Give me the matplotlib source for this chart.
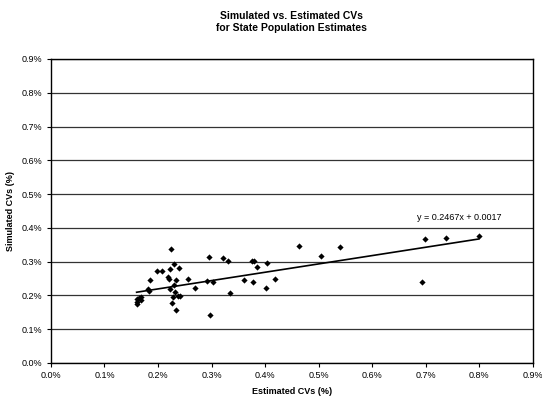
import numpy as np
import matplotlib.pyplot as plt
from matplotlib.ticker import FuncFormatter, MultipleLocator

plt.rcParams['font.family'] = ['Liberation Sans', 'DejaVu Sans']

# Estimated vs. simulated CVs by state, in percent
estimated_cv = [
    0.225, 0.199, 0.207, 0.222, 0.230, 0.240, 0.219, 0.220, 0.234, 0.185,
    0.182, 0.183, 0.223, 0.230, 0.232, 0.228, 0.238, 0.241, 0.227, 0.233,
    0.160, 0.160, 0.160, 0.164, 0.169, 0.169, 0.256, 0.270, 0.296, 0.322,
    0.331, 0.292, 0.302, 0.297, 0.334, 0.375, 0.380, 0.385, 0.403, 0.360,
    0.377, 0.401, 0.419, 0.463, 0.505, 0.539, 0.698, 0.737, 0.693, 0.799,
]
simulated_cv = [
    0.337, 0.272, 0.272, 0.278, 0.294, 0.282, 0.256, 0.250, 0.245, 0.245,
    0.218, 0.214, 0.220, 0.230, 0.211, 0.196, 0.199, 0.197, 0.177, 0.158,
    0.188, 0.181, 0.175, 0.192, 0.194, 0.187, 0.250, 0.222, 0.314, 0.312,
    0.301, 0.243, 0.239, 0.143, 0.207, 0.301, 0.302, 0.283, 0.297, 0.246,
    0.241, 0.221, 0.249, 0.346, 0.318, 0.344, 0.367, 0.371, 0.239, 0.375,
]

# Linear trend (in fractional units): y = 0.2467x + 0.0017
slope = 0.2467
intercept = 0.0017

fig = plt.figure(figsize=(5.42, 4.0), dpi=100)
ax = fig.add_axes([0.094, 0.0925, 0.889, 0.760])

ax.scatter(estimated_cv, simulated_cv, marker='D', s=10, color='black',
           linewidths=0, zorder=3)

x_fit = np.array([min(estimated_cv), max(estimated_cv)])
y_fit = slope * x_fit + intercept * 100
ax.plot(x_fit, y_fit, color='black', linewidth=1.2, zorder=2)
ax.text(0.763, 0.432, 'y = %.4fx + %.4f' % (slope, intercept),
        fontsize=6.5, ha='center', va='center')

ax.set_xlim(0, 0.9)
ax.set_ylim(0, 0.9)
ax.xaxis.set_major_locator(MultipleLocator(0.1))
ax.yaxis.set_major_locator(MultipleLocator(0.1))
pct = FuncFormatter(lambda v, pos: '%.1f%%' % v)
ax.xaxis.set_major_formatter(pct)
ax.yaxis.set_major_formatter(pct)
ax.tick_params(labelsize=6.5, length=3, width=0.8, direction='out', pad=3)

ax.grid(axis='y', color='#333333', linewidth=0.9)
ax.set_axisbelow(True)
for side in ax.spines.values():
    side.set_color('black')
    side.set_linewidth(1.0)

ax.set_xlabel('Estimated CVs (%)', fontsize=6.5, fontweight='bold', labelpad=5)
ax.set_ylabel('Simulated CVs (%)', fontsize=6.5, fontweight='bold', labelpad=5)
ax.set_title('Simulated vs. Estimated CVs\nfor State Population Estimates',
             fontsize=7.5, fontweight='bold', pad=20, linespacing=1.3)

fig.savefig('out.png', dpi=100)
